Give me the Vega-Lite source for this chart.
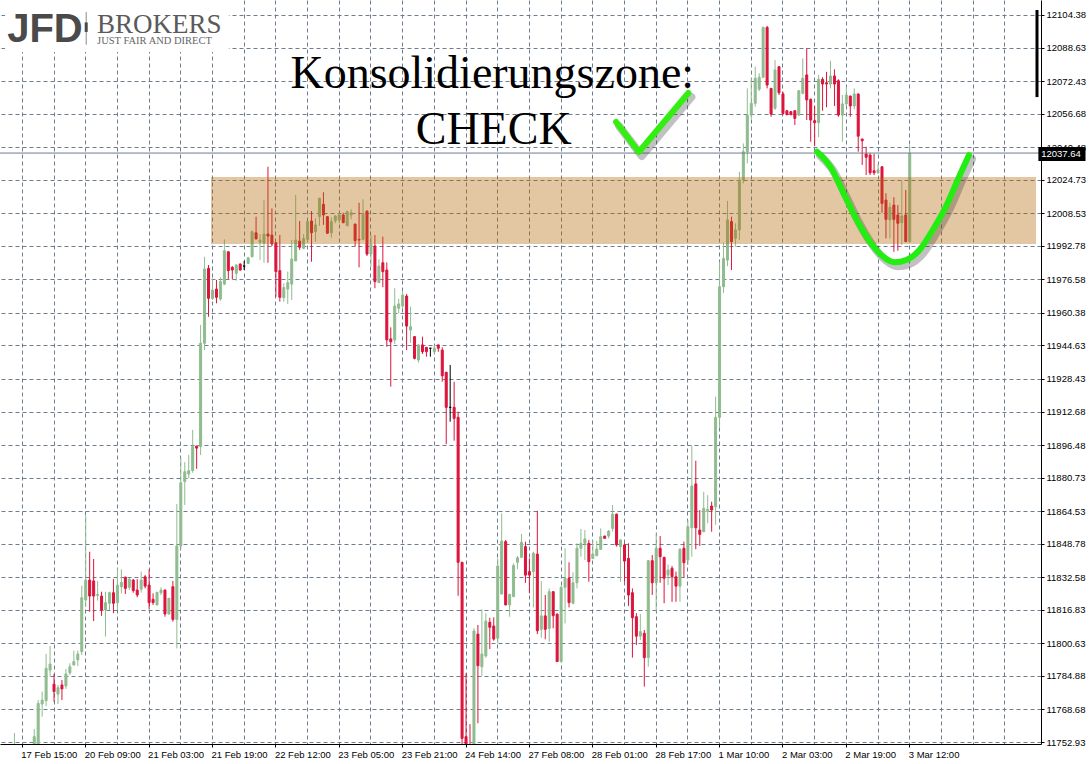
{
"$schema": "https://vega.github.io/schema/vega-lite/v6.json",
"width": 1041, "height": 744,
"autosize": {"type": "none"},
"padding": {"left": 0, "top": 0, "right": 48, "bottom": 20},
"background": "white",
"config": {"view": {"stroke": null}, "font": "Liberation Sans", "axis": {"labelOverlap": false, "labelSeparation": 0}},
"datasets": {
"candles": [
{"i":2,"o":11738,"h":11757.3,"l":11735,"c":11745},
{"i":7,"o":11745,"h":11759.2,"l":11740,"c":11755.5},
{"i":8,"o":11749,"h":11773.2,"l":11745,"c":11771.6},
{"i":9,"o":11771.3,"h":11777.3,"l":11765.2,"c":11773.2},
{"i":10,"o":11772.9,"h":11795.5,"l":11770.3,"c":11788.6},
{"i":11,"o":11787.7,"h":11799.4,"l":11784.5,"c":11790.6},
{"i":12,"o":11780.9,"h":11785.8,"l":11772.4,"c":11777.3},
{"i":13,"o":11776.1,"h":11780.5,"l":11771.3,"c":11779.2},
{"i":14,"o":11780.5,"h":11782.9,"l":11773.2,"c":11778.6},
{"i":15,"o":11780.0,"h":11788.2,"l":11778.6,"c":11785.8},
{"i":16,"o":11786.4,"h":11791.0,"l":11785.3,"c":11789.3},
{"i":17,"o":11790.2,"h":11797.1,"l":11789.8,"c":11791.8},
{"i":18,"o":11792.6,"h":11797.1,"l":11789.7,"c":11795.5},
{"i":19,"o":11796.6,"h":11828.5,"l":11795.0,"c":11822.7},
{"i":20,"o":11821.6,"h":11862.2,"l":11818.4,"c":11831.2},
{"i":21,"o":11831.2,"h":11844.9,"l":11815.9,"c":11823.5},
{"i":22,"o":11830.8,"h":11841.4,"l":11811.4,"c":11823.5},
{"i":23,"o":11823.8,"h":11830.8,"l":11821.3,"c":11824.3},
{"i":24,"o":11823.5,"h":11825.6,"l":11813.9,"c":11816.8},
{"i":25,"o":11816.8,"h":11825.6,"l":11803.9,"c":11820.3},
{"i":26,"o":11820.0,"h":11825.6,"l":11816.8,"c":11825.1},
{"i":27,"o":11825.1,"h":11831.7,"l":11815.2,"c":11820.0},
{"i":28,"o":11820.3,"h":11836.9,"l":11816.8,"c":11828.8},
{"i":29,"o":11828.0,"h":11836.4,"l":11824.8,"c":11830.1},
{"i":30,"o":11832.6,"h":11832.9,"l":11824.5,"c":11827.2},
{"i":31,"o":11827.7,"h":11832.1,"l":11826.4,"c":11831.7},
{"i":32,"o":11831.2,"h":11831.7,"l":11825.1,"c":11826.1},
{"i":33,"o":11826.4,"h":11831.7,"l":11822.9,"c":11824.0},
{"i":34,"o":11826.8,"h":11835.3,"l":11825.1,"c":11831.2},
{"i":35,"o":11832.8,"h":11833.7,"l":11827.2,"c":11828.3},
{"i":36,"o":11828.8,"h":11836.4,"l":11817.1,"c":11820.3},
{"i":37,"o":11821.9,"h":11824.8,"l":11819.2,"c":11820.3},
{"i":38,"o":11819.2,"h":11825.5,"l":11819.0,"c":11825.3},
{"i":39,"o":11825.1,"h":11827.7,"l":11824.0,"c":11826.4},
{"i":40,"o":11826.4,"h":11826.6,"l":11813.5,"c":11814.8},
{"i":41,"o":11814.8,"h":11822.6,"l":11814.6,"c":11822.4},
{"i":42,"o":11828.0,"h":11830.8,"l":11811.1,"c":11812.2},
{"i":43,"o":11812.2,"h":11868.0,"l":11798.2,"c":11847.7},
{"i":44,"o":11847.7,"h":11890.4,"l":11846.0,"c":11878.3},
{"i":45,"o":11878.8,"h":11888.2,"l":11867.5,"c":11883.6},
{"i":46,"o":11882.5,"h":11891.7,"l":11880.4,"c":11884.1},
{"i":47,"o":11884.1,"h":11903.8,"l":11883.1,"c":11895.7},
{"i":48,"o":11896.0,"h":11896.1,"l":11885.0,"c":11895.0},
{"i":49,"o":11895.7,"h":11954.5,"l":11891.7,"c":11945.7},
{"i":50,"o":11945.7,"h":11987.5,"l":11942.4,"c":11981.6},
{"i":51,"o":11981.9,"h":11983.5,"l":11958.5,"c":11967.4},
{"i":52,"o":11967.4,"h":11977.1,"l":11966.6,"c":11971.4},
{"i":53,"o":11971.9,"h":11976.3,"l":11965.0,"c":11967.9},
{"i":54,"o":11967.1,"h":11977.6,"l":11966.3,"c":11975.5},
{"i":55,"o":11974.3,"h":11995.9,"l":11973.8,"c":11990.4},
{"i":56,"o":11989.9,"h":11990.2,"l":11976.8,"c":11980.8},
{"i":57,"o":11982.4,"h":11983.0,"l":11976.6,"c":11981.1},
{"i":58,"o":11979.5,"h":11984.0,"l":11975.9,"c":11983.5},
{"i":59,"o":11984.0,"h":11984.3,"l":11980.8,"c":11981.1},
{"i":60,"o":11983.0,"h":11985.5,"l":11981.1,"c":11983.0},
{"i":61,"o":11984.3,"h":11987.5,"l":11984.0,"c":11987.0},
{"i":62,"o":11987.5,"h":12000.1,"l":11987.2,"c":11999.6},
{"i":63,"o":11999.1,"h":12006.9,"l":11996.0,"c":11996.1},
{"i":64,"o":11994.5,"h":11998.5,"l":11985.9,"c":11995.6},
{"i":65,"o":11994.0,"h":12014.9,"l":11984.6,"c":11998.5},
{"i":66,"o":11998.5,"h":12031.0,"l":11984.6,"c":11997.5},
{"i":67,"o":11998.0,"h":12010.9,"l":11992.7,"c":11993.7},
{"i":68,"o":11994.3,"h":11994.5,"l":11968.2,"c":11980.3},
{"i":69,"o":11980.8,"h":11998.0,"l":11965.8,"c":11967.9},
{"i":70,"o":11967.7,"h":11974.7,"l":11965.8,"c":11972.6},
{"i":71,"o":11971.9,"h":11980.3,"l":11964.7,"c":11975.0},
{"i":72,"o":11974.3,"h":11995.6,"l":11966.6,"c":11986.4},
{"i":73,"o":11985.5,"h":12017.4,"l":11985.4,"c":11995.6},
{"i":74,"o":11995.1,"h":12004.8,"l":11990.8,"c":11992.1},
{"i":75,"o":11991.6,"h":11998.5,"l":11991.1,"c":11996.4},
{"i":76,"o":11995.9,"h":12004.7,"l":11994.8,"c":12004.5},
{"i":77,"o":12004.8,"h":12009.6,"l":11985.1,"c":11999.1},
{"i":78,"o":11999.6,"h":12006.1,"l":11994.8,"c":12002.9},
{"i":79,"o":12006.9,"h":12016.0,"l":12002.4,"c":12015.8},
{"i":80,"o":12012.9,"h":12018.7,"l":12002.9,"c":12007.7},
{"i":81,"o":12006.9,"h":12007.0,"l":11998.5,"c":11998.9},
{"i":82,"o":11999.1,"h":12006.6,"l":11996.7,"c":12004.5},
{"i":83,"o":12004.9,"h":12007.7,"l":12003.7,"c":12007.2},
{"i":84,"o":12005.3,"h":12008.8,"l":12003.7,"c":12007.7},
{"i":85,"o":12007.7,"h":12008.8,"l":12003.7,"c":12004.0},
{"i":86,"o":12002.5,"h":12009.8,"l":12002.4,"c":12009.3},
{"i":87,"o":12007.7,"h":12010.4,"l":12005.6,"c":12008.8},
{"i":88,"o":12003.3,"h":12003.5,"l":11992.7,"c":11995.3},
{"i":89,"o":11995.9,"h":12013.6,"l":11982.4,"c":11995.6},
{"i":90,"o":11995.9,"h":12015.3,"l":11995.5,"c":12008.5},
{"i":91,"o":12009.6,"h":12009.8,"l":11987.9,"c":11988.8},
{"i":92,"o":11988.8,"h":11998.0,"l":11982.7,"c":11993.7},
{"i":93,"o":11992.7,"h":11998.0,"l":11972.3,"c":11975.5},
{"i":94,"o":11975.0,"h":11986.3,"l":11974.8,"c":11983.0},
{"i":95,"o":11984.6,"h":11997.2,"l":11972.8,"c":11980.3},
{"i":96,"o":11981.1,"h":11984.8,"l":11944.0,"c":11947.3},
{"i":97,"o":11947.8,"h":11953.4,"l":11924.7,"c":11946.4},
{"i":98,"o":11947.3,"h":11972.3,"l":11945.3,"c":11963.7},
{"i":99,"o":11962.6,"h":11967.1,"l":11960.2,"c":11964.7},
{"i":100,"o":11963.7,"h":11970.6,"l":11962.3,"c":11969.0},
{"i":101,"o":11968.5,"h":11969.5,"l":11942.4,"c":11954.0},
{"i":102,"o":11952.1,"h":11963.4,"l":11945.9,"c":11953.7},
{"i":103,"o":11948.9,"h":11949.0,"l":11937.9,"c":11938.4},
{"i":104,"o":11937.6,"h":11945.0,"l":11936.3,"c":11944.9},
{"i":105,"o":11944.9,"h":11948.9,"l":11940.5,"c":11941.6},
{"i":106,"o":11943.7,"h":11943.9,"l":11939.2,"c":11941.6},
{"i":107,"o":11943.3,"h":11943.4,"l":11939.2,"c":11943.3},
{"i":108,"o":11941.6,"h":11944.9,"l":11940.5,"c":11943.3},
{"i":109,"o":11944.9,"h":11945.0,"l":11941.6,"c":11943.3},
{"i":110,"o":11942.4,"h":11943.7,"l":11927.1,"c":11930.0},
{"i":111,"o":11931.7,"h":11931.8,"l":11896.9,"c":11914.7},
{"i":112,"o":11914.7,"h":11935.2,"l":11907.8,"c":11914.7},
{"i":113,"o":11914.7,"h":11927.1,"l":11898.6,"c":11909.4},
{"i":114,"o":11909.9,"h":11912.6,"l":11823.6,"c":11839.8},
{"i":115,"o":11839.8,"h":11840.0,"l":11745,"c":11754.7},
{"i":116,"o":11755.5,"h":11786.1,"l":11744,"c":11748},
{"i":117,"o":11750,"h":11761.6,"l":11742,"c":11745},
{"i":118,"o":11748,"h":11807.9,"l":11742,"c":11806.6},
{"i":119,"o":11805.1,"h":11809.5,"l":11762.0,"c":11789.8},
{"i":120,"o":11789.3,"h":11817.1,"l":11784.9,"c":11795.5},
{"i":121,"o":11794.5,"h":11815.2,"l":11793.7,"c":11811.4},
{"i":122,"o":11810.8,"h":11813.0,"l":11797.9,"c":11808.4},
{"i":123,"o":11809.0,"h":11813.2,"l":11801.9,"c":11802.7},
{"i":124,"o":11803.1,"h":11841.7,"l":11800.6,"c":11838.0},
{"i":125,"o":11824.5,"h":11863.5,"l":11824.3,"c":11850.1},
{"i":126,"o":11849.8,"h":11850.6,"l":11819.0,"c":11819.2},
{"i":127,"o":11819.2,"h":11824.5,"l":11813.5,"c":11824.3},
{"i":128,"o":11823.2,"h":11839.3,"l":11823.0,"c":11838.2},
{"i":129,"o":11839.8,"h":11842.9,"l":11836.6,"c":11842.0},
{"i":130,"o":11842.2,"h":11853.5,"l":11842.0,"c":11849.5},
{"i":131,"o":11847.4,"h":11849.8,"l":11829.9,"c":11833.6},
{"i":132,"o":11835.3,"h":11841.7,"l":11824.8,"c":11833.6},
{"i":133,"o":11835.3,"h":11844.9,"l":11818.0,"c":11844.2},
{"i":134,"o":11843.8,"h":11864.7,"l":11805.1,"c":11806.7},
{"i":135,"o":11807.4,"h":11830.8,"l":11803.4,"c":11813.9},
{"i":136,"o":11813.9,"h":11824.0,"l":11802.6,"c":11807.4},
{"i":137,"o":11807.9,"h":11827.2,"l":11801.4,"c":11825.6},
{"i":138,"o":11825.6,"h":11825.8,"l":11807.9,"c":11814.0},
{"i":139,"o":11814.7,"h":11815.2,"l":11791.6,"c":11791.8},
{"i":140,"o":11791.8,"h":11828.3,"l":11791.6,"c":11827.7},
{"i":141,"o":11827.7,"h":11846.6,"l":11810.3,"c":11832.1},
{"i":142,"o":11832.1,"h":11839.8,"l":11818.0,"c":11820.3},
{"i":143,"o":11820.0,"h":11835.0,"l":11819.5,"c":11829.9},
{"i":144,"o":11829.9,"h":11849.0,"l":11827.2,"c":11846.6},
{"i":145,"o":11846.6,"h":11855.9,"l":11842.5,"c":11849.0},
{"i":146,"o":11849.0,"h":11855.4,"l":11840.9,"c":11851.1},
{"i":147,"o":11849.0,"h":11850.6,"l":11830.4,"c":11840.1},
{"i":148,"o":11841.7,"h":11850.6,"l":11841.3,"c":11843.8},
{"i":149,"o":11843.0,"h":11850.2,"l":11842.8,"c":11846.2},
{"i":150,"o":11846.1,"h":11856.2,"l":11845.8,"c":11852.2},
{"i":151,"o":11852.5,"h":11852.6,"l":11851.3,"c":11851.4},
{"i":152,"o":11852.5,"h":11855.4,"l":11851.4,"c":11854.9},
{"i":153,"o":11856.2,"h":11867.5,"l":11854.6,"c":11863.1},
{"i":154,"o":11863.1,"h":11863.3,"l":11847.4,"c":11848.2},
{"i":155,"o":11847.4,"h":11850.9,"l":11830.4,"c":11850.6},
{"i":156,"o":11848.2,"h":11849.0,"l":11830.4,"c":11840.4},
{"i":157,"o":11841.7,"h":11849.0,"l":11818.7,"c":11824.0},
{"i":158,"o":11825.1,"h":11827.2,"l":11793.7,"c":11813.0},
{"i":159,"o":11813.5,"h":11815.2,"l":11799.8,"c":11804.1},
{"i":160,"o":11804.1,"h":11814.8,"l":11802.2,"c":11806.3},
{"i":161,"o":11805.5,"h":11807.1,"l":11779.7,"c":11793.7},
{"i":162,"o":11793.7,"h":11840.9,"l":11789.3,"c":11840.6},
{"i":163,"o":11840.6,"h":11843.3,"l":11824.0,"c":11829.9},
{"i":164,"o":11829.9,"h":11854.1,"l":11815.9,"c":11846.6},
{"i":165,"o":11846.6,"h":11852.5,"l":11829.9,"c":11842.5},
{"i":166,"o":11842.2,"h":11842.5,"l":11820.0,"c":11832.1},
{"i":167,"o":11833.6,"h":11838.8,"l":11828.8,"c":11836.1},
{"i":168,"o":11836.9,"h":11838.0,"l":11820.7,"c":11832.8},
{"i":169,"o":11832.8,"h":11835.3,"l":11820.7,"c":11828.3},
{"i":170,"o":11828.3,"h":11846.6,"l":11820.7,"c":11846.1},
{"i":171,"o":11846.6,"h":11849.8,"l":11832.4,"c":11839.6},
{"i":172,"o":11840.9,"h":11860.3,"l":11838.5,"c":11857.0},
{"i":173,"o":11856.5,"h":11896.0,"l":11842.5,"c":11876.7},
{"i":174,"o":11877.7,"h":11888.9,"l":11846.1,"c":11856.5},
{"i":175,"o":11855.4,"h":11865.1,"l":11847.7,"c":11853.3},
{"i":176,"o":11854.6,"h":11873.9,"l":11854.4,"c":11865.9},
{"i":177,"o":11864.3,"h":11872.3,"l":11858.7,"c":11865.4},
{"i":178,"o":11867.0,"h":11869.1,"l":11854.6,"c":11865.1},
{"i":179,"o":11866.7,"h":11919.9,"l":11857.9,"c":11909.9},
{"i":180,"o":11909.9,"h":11985.1,"l":11905.0,"c":11973.0},
{"i":181,"o":11973.0,"h":11994.3,"l":11970.0,"c":11986.7},
{"i":182,"o":11985.9,"h":12014.5,"l":11983.0,"c":12005.3},
{"i":183,"o":12004.5,"h":12006.9,"l":11981.1,"c":11994.8},
{"i":184,"o":11996.4,"h":12003.7,"l":11992.4,"c":12000.5},
{"i":185,"o":12000.5,"h":12028.6,"l":11995.6,"c":12024.6},
{"i":186,"o":12024.6,"h":12042.3,"l":12023.0,"c":12038.3},
{"i":187,"o":12038.3,"h":12068.9,"l":12032.7,"c":12056.0},
{"i":188,"o":12056.0,"h":12073.8,"l":12054.0,"c":12061.7},
{"i":189,"o":12061.7,"h":12079.4,"l":12060.0,"c":12073.8},
{"i":190,"o":12068.5,"h":12076.2,"l":12067.6,"c":12074.3},
{"i":191,"o":12074.3,"h":12098.7,"l":12073.8,"c":12098.4},
{"i":192,"o":12098.4,"h":12099.1,"l":12068.9,"c":12070.5},
{"i":193,"o":12068.9,"h":12069.0,"l":12055.2,"c":12056.5},
{"i":194,"o":12059.3,"h":12082.6,"l":12058.5,"c":12077.8},
{"i":195,"o":12079.4,"h":12079.6,"l":12065.7,"c":12066.8},
{"i":196,"o":12066.2,"h":12067.3,"l":12056.0,"c":12056.8},
{"i":197,"o":12058.1,"h":12058.3,"l":12055.8,"c":12056.3},
{"i":198,"o":12057.6,"h":12058.0,"l":12055.8,"c":12056.3},
{"i":199,"o":12058.1,"h":12058.3,"l":12051.2,"c":12054.4},
{"i":200,"o":12056.0,"h":12068.0,"l":12055.6,"c":12067.8},
{"i":201,"o":12066.5,"h":12083.4,"l":12066.0,"c":12073.8},
{"i":202,"o":12075.4,"h":12088.3,"l":12053.6,"c":12063.3},
{"i":203,"o":12063.6,"h":12064.0,"l":12043.1,"c":12053.6},
{"i":204,"o":12053.3,"h":12060.4,"l":12041.0,"c":12052.3},
{"i":205,"o":12052.3,"h":12075.4,"l":12045.3,"c":12073.3},
{"i":206,"o":12073.3,"h":12074.3,"l":12058.1,"c":12071.0},
{"i":207,"o":12071.6,"h":12076.9,"l":12059.8,"c":12071.0},
{"i":208,"o":12071.0,"h":12082.3,"l":12068.9,"c":12074.9},
{"i":209,"o":12074.9,"h":12078.1,"l":12060.4,"c":12071.0},
{"i":210,"o":12072.6,"h":12073.3,"l":12055.2,"c":12056.0},
{"i":211,"o":12056.0,"h":12065.7,"l":12043.1,"c":12061.4},
{"i":212,"o":12061.4,"h":12069.7,"l":12060.4,"c":12065.7},
{"i":213,"o":12065.2,"h":12065.4,"l":12055.2,"c":12060.4},
{"i":214,"o":12060.4,"h":12068.9,"l":12058.8,"c":12066.2},
{"i":215,"o":12066.2,"h":12066.4,"l":12038.3,"c":12045.8},
{"i":216,"o":12044.4,"h":12044.6,"l":12031.9,"c":12043.6},
{"i":217,"o":12037.2,"h":12040.7,"l":12027.0,"c":12035.6},
{"i":218,"o":12036.7,"h":12037.5,"l":12027.0,"c":12028.1},
{"i":219,"o":12029.1,"h":12037.2,"l":12027.0,"c":12028.1},
{"i":220,"o":12028.1,"h":12032.4,"l":12027.5,"c":12029.5},
{"i":221,"o":12031.0,"h":12031.2,"l":12008.8,"c":12013.3},
{"i":222,"o":12014.9,"h":12018.2,"l":11996.4,"c":12005.6},
{"i":223,"o":12005.3,"h":12013.6,"l":11996.4,"c":12011.4},
{"i":224,"o":12012.5,"h":12016.3,"l":11989.9,"c":12005.6},
{"i":225,"o":12007.7,"h":12012.5,"l":11990.4,"c":12003.7},
{"i":226,"o":12004.0,"h":12024.3,"l":11993.2,"c":12007.2},
{"i":227,"o":12007.7,"h":12019.8,"l":11994.6,"c":11994.8},
{"i":228,"o":11994.8,"h":12041.5,"l":11994.6,"c":12037.64}
],
"check": [
{"k":1,"i":154.0,"p":12052.65},
{"k":2,"i":159.75,"p":12038.15},
{"k":3,"i":172.25,"p":12066.67}
],
"curve": [
{"k":1,"i":204.75,"p":12038.30},
{"k":2,"i":208.08,"p":12031.04},
{"k":3,"i":211.43,"p":12018.19},
{"k":4,"i":214.75,"p":12005.28},
{"k":5,"i":218.08,"p":11994.79},
{"k":6,"i":221.43,"p":11987.54},
{"k":7,"i":224.33,"p":11984.83},
{"k":8,"i":227.25,"p":11985.94},
{"k":9,"i":230.58,"p":11990.77},
{"k":10,"i":233.93,"p":12000.44},
{"k":11,"i":237.25,"p":12011.71},
{"k":12,"i":240.58,"p":12026.21},
{"k":13,"i":243.08,"p":12036.70}
]
},
"layer": [
{
"data": {"name": "candles"},
"mark": {"type": "rule", "clip": true, "xOffset": 0.5, "strokeWidth": 1},
"encoding": {
"x": {"field": "i", "type": "quantitative",
 "scale": {"domain": [-0.25, 260], "nice": false, "zero": false},
 "axis": {"title": null, "tickCount": 200,
  "values": [4,12,20,28,36,44,52,60,68,76,84,92,100,108,116,124,132,140,148,156,164,172,180,188,196,204,212,220,228,236,244,252],
  "labelExpr": "(datum.value + 12) % 16 == 0 && datum.value <= 228 ? ['16 Feb 23:00','17 Feb 15:00','20 Feb 09:00','21 Feb 03:00','21 Feb 19:00','22 Feb 12:00','23 Feb 05:00','23 Feb 21:00','24 Feb 14:00','27 Feb 08:00','28 Feb 01:00','28 Feb 17:00','1 Mar 10:00','2 Mar 03:00','2 Mar 19:00','3 Mar 12:00'][(datum.value + 12) / 16] : ''",
  "grid": true, "gridColor": "#6e7d8e", "gridDash": [4, 3], "gridWidth": 1,
  "domainColor": "#000000", "domainWidth": 1,
  "tickColor": {"condition": {"test": "(datum.value + 12) % 16 == 0 && datum.value <= 228", "value": "#000000"}, "value": "transparent"},
  "tickSize": 3, "labelAlign": "left", "labelBaseline": "top", "labelPadding": 2, "labelOffset": -1,
  "labelFont": "Liberation Sans", "labelFontSize": 9.5, "labelColor": "#000000",
  "labelFlush": false, "labelOverlap": false, "labelBound": false}},
"y": {"field": "l", "type": "quantitative",
 "scale": {"domain": [11751.97, 12111.63], "nice": false, "zero": false},
 "axis": {"title": null, "orient": "right", "tickCount": 200,
  "values": [11752.93,11768.68,11784.88,11800.63,11816.83,11832.58,11848.78,11864.53,11880.73,11896.48,11912.68,11928.43,11944.63,11960.38,11976.58,11992.78,12008.53,12024.73,12040.48,12056.68,12072.43,12088.63,12104.38],
  "format": ".2f",
  "grid": true, "gridColor": "#6e7d8e", "gridDash": [4, 3], "gridWidth": 1,
  "domainColor": "#000000", "domainWidth": 1, "tickColor": "#000000", "tickSize": 3,
  "labelAlign": "left", "labelBaseline": "middle", "labelPadding": 2,
  "labelFont": "Liberation Sans", "labelFontSize": 9.5, "labelColor": "#000000",
  "labelFlush": false, "labelOverlap": false, "labelBound": false}},
"y2": {"field": "h"},
"color": {"condition": [{"test": "datum.c == datum.o", "value": "#000000"}, {"test": "datum.c > datum.o", "value": "#8fbc8f"}], "value": "#dc143c"}
}
},
{
"data": {"name": "candles"},
"mark": {"type": "bar", "clip": true, "xOffset": 0.5, "size": 2, "strokeWidth": 1},
"encoding": {
"x": {"field": "i", "type": "quantitative", "scale": {"domain": [-0.25, 260], "nice": false, "zero": false}},
"y": {"field": "o", "type": "quantitative", "scale": {"domain": [11751.97, 12111.63], "nice": false, "zero": false}},
"y2": {"field": "c"},
"color": {"condition": [{"test": "datum.c == datum.o", "value": "#000000"}, {"test": "datum.c > datum.o", "value": "#8fbc8f"}], "value": "#dc143c"},
"stroke": {"condition": [{"test": "datum.c == datum.o", "value": "#000000"}, {"test": "datum.c > datum.o", "value": "#8fbc8f"}], "value": "#dc143c"}
}
},
{
"data": {"values": [{"i": 51.75, "i2": 260, "p": 11993.68, "p2": 12026.06}]},
"mark": {"type": "rect", "color": "#b36804", "opacity": 0.37},
"encoding": {
"x": {"field": "i", "type": "quantitative", "scale": {"domain": [-0.25, 260], "nice": false, "zero": false}},
"x2": {"field": "i2"},
"y": {"field": "p", "type": "quantitative", "scale": {"domain": [11751.97, 12111.63], "nice": false, "zero": false}},
"y2": {"field": "p2"}
}
},
{
"data": {"values": [{"p": 12037.64}]},
"mark": {"type": "rule", "color": "#6e7d8e", "strokeWidth": 1},
"encoding": {
"y": {"field": "p", "type": "quantitative", "scale": {"domain": [11751.97, 12111.63], "nice": false, "zero": false}}
}
},
{
"data": {"values": [{"i": -0.25, "i2": 56.25, "p": 12086.5, "p2": 12111.63}]},
"mark": {"type": "rect", "color": "#ffffff", "opacity": 1},
"encoding": {
"x": {"field": "i", "type": "quantitative", "scale": {"domain": [-0.25, 260], "nice": false, "zero": false}},
"x2": {"field": "i2"},
"y": {"field": "p", "type": "quantitative", "scale": {"domain": [11751.97, 12111.63], "nice": false, "zero": false}},
"y2": {"field": "p2"}
}
},
{
"data": {"name": "check"},
"mark": {"type": "line", "color": "#333333", "opacity": 0.3, "strokeWidth": 8, "xOffset": 3, "yOffset": 4, "strokeCap": "round", "strokeJoin": "round"},
"encoding": {
"x": {"field": "i", "type": "quantitative", "scale": {"domain": [-0.25, 260], "nice": false, "zero": false}},
"y": {"field": "p", "type": "quantitative", "scale": {"domain": [11751.97, 12111.63], "nice": false, "zero": false}},
"order": {"field": "k"}
}
},
{
"data": {"name": "check"},
"mark": {"type": "line", "color": "#33ee11", "strokeWidth": 6, "strokeCap": "round", "strokeJoin": "round"},
"encoding": {
"x": {"field": "i", "type": "quantitative", "scale": {"domain": [-0.25, 260], "nice": false, "zero": false}},
"y": {"field": "p", "type": "quantitative", "scale": {"domain": [11751.97, 12111.63], "nice": false, "zero": false}},
"order": {"field": "k"}
}
},
{
"data": {"name": "curve"},
"mark": {"type": "line", "color": "#333333", "opacity": 0.3, "strokeWidth": 8, "xOffset": 3, "yOffset": 4, "interpolate": "monotone", "strokeCap": "round"},
"encoding": {
"x": {"field": "i", "type": "quantitative", "scale": {"domain": [-0.25, 260], "nice": false, "zero": false}},
"y": {"field": "p", "type": "quantitative", "scale": {"domain": [11751.97, 12111.63], "nice": false, "zero": false}},
"order": {"field": "k"}
}
},
{
"data": {"name": "curve"},
"mark": {"type": "line", "color": "#22ee11", "strokeWidth": 6, "interpolate": "monotone", "strokeCap": "round"},
"encoding": {
"x": {"field": "i", "type": "quantitative", "scale": {"domain": [-0.25, 260], "nice": false, "zero": false}},
"y": {"field": "p", "type": "quantitative", "scale": {"domain": [11751.97, 12111.63], "nice": false, "zero": false}},
"order": {"field": "k"}
}
},
{
"data": {"values": [{"i": 122.75, "p": 12069.09, "t": "Konsolidierungszone:"}, {"i": 123.1, "p": 12042.02, "t": "CHECK"}]},
"mark": {"type": "text", "font": "Liberation Serif", "fontSize": 46, "color": "#000000", "align": "center", "baseline": "alphabetic"},
"encoding": {
"x": {"field": "i", "type": "quantitative", "scale": {"domain": [-0.25, 260], "nice": false, "zero": false}},
"y": {"field": "p", "type": "quantitative", "scale": {"domain": [11751.97, 12111.63], "nice": false, "zero": false}},
"text": {"field": "t"}
}
},
{
"data": {"values": [{"i": 0.3, "p": 12091.33, "t": "JFD"}]},
"mark": {"type": "text", "font": "Liberation Sans", "fontSize": 40, "fontWeight": "bold", "color": "#4a4a4a", "align": "left", "baseline": "alphabetic"},
"encoding": {
"x": {"field": "i", "type": "quantitative", "scale": {"domain": [-0.25, 260], "nice": false, "zero": false}},
"y": {"field": "p", "type": "quantitative", "scale": {"domain": [11751.97, 12111.63], "nice": false, "zero": false}},
"text": {"field": "t"}
}
},
{
"data": {"values": [{"i": 23.0, "p": 12095.68, "t": "BROKERS"}]},
"mark": {"type": "text", "font": "Liberation Serif", "fontSize": 27, "color": "#5a5a5a", "align": "left", "baseline": "alphabetic"},
"encoding": {
"x": {"field": "i", "type": "quantitative", "scale": {"domain": [-0.25, 260], "nice": false, "zero": false}},
"y": {"field": "p", "type": "quantitative", "scale": {"domain": [11751.97, 12111.63], "nice": false, "zero": false}},
"text": {"field": "t"}
}
},
{
"data": {"values": [{"i": 23.0, "p": 12090.3, "t": "JUST FAIR AND DIRECT"}]},
"mark": {"type": "text", "font": "Liberation Serif", "fontSize": 10.5, "color": "#666666", "align": "left", "baseline": "alphabetic", "letterSpacing": 0.4},
"encoding": {
"x": {"field": "i", "type": "quantitative", "scale": {"domain": [-0.25, 260], "nice": false, "zero": false}},
"y": {"field": "p", "type": "quantitative", "scale": {"domain": [11751.97, 12111.63], "nice": false, "zero": false}},
"text": {"field": "t"}
}
},
{
"data": {"values": [{"i": 20.25, "p": 12090.0, "p2": 12105.8}]},
"mark": {"type": "rule", "color": "#8a8a8a", "strokeWidth": 1},
"encoding": {
"x": {"field": "i", "type": "quantitative", "scale": {"domain": [-0.25, 260], "nice": false, "zero": false}},
"y": {"field": "p", "type": "quantitative", "scale": {"domain": [11751.97, 12111.63], "nice": false, "zero": false}},
"y2": {"field": "p2"}
}
},
{
"data": {"values": [{"i": 20.25, "p": 12096.2, "p2": 12100.8}]},
"mark": {"type": "rule", "color": "#4a4a4a", "strokeWidth": 3},
"encoding": {
"x": {"field": "i", "type": "quantitative", "scale": {"domain": [-0.25, 260], "nice": false, "zero": false}},
"y": {"field": "p", "type": "quantitative", "scale": {"domain": [11751.97, 12111.63], "nice": false, "zero": false}},
"y2": {"field": "p2"}
}
},
{
"data": {"values": [{"i": 260.25, "p": 12064.7, "p2": 12106.8}]},
"mark": {"type": "rule", "color": "#000000", "strokeWidth": 3, "clip": false},
"encoding": {
"x": {"field": "i", "type": "quantitative", "scale": {"domain": [-0.25, 260], "nice": false, "zero": false}},
"y": {"field": "p", "type": "quantitative", "scale": {"domain": [11751.97, 12111.63], "nice": false, "zero": false}},
"y2": {"field": "p2"}
}
},
{
"data": {"values": [{"i": 260.6, "i2": 272.5, "p": 12033.8, "p2": 12040.6}]},
"mark": {"type": "rect", "color": "#000000", "clip": false},
"encoding": {
"x": {"field": "i", "type": "quantitative", "scale": {"domain": [-0.25, 260], "nice": false, "zero": false}},
"x2": {"field": "i2"},
"y": {"field": "p", "type": "quantitative", "scale": {"domain": [11751.97, 12111.63], "nice": false, "zero": false}},
"y2": {"field": "p2"}
}
},
{
"data": {"values": [{"i": 261.3, "p": 12037.2, "t": "12037.64"}]},
"mark": {"type": "text", "font": "Liberation Sans", "fontSize": 9.5, "color": "#ffffff", "align": "left", "baseline": "middle", "clip": false},
"encoding": {
"x": {"field": "i", "type": "quantitative", "scale": {"domain": [-0.25, 260], "nice": false, "zero": false}},
"y": {"field": "p", "type": "quantitative", "scale": {"domain": [11751.97, 12111.63], "nice": false, "zero": false}},
"text": {"field": "t"}
}
}
]
}
